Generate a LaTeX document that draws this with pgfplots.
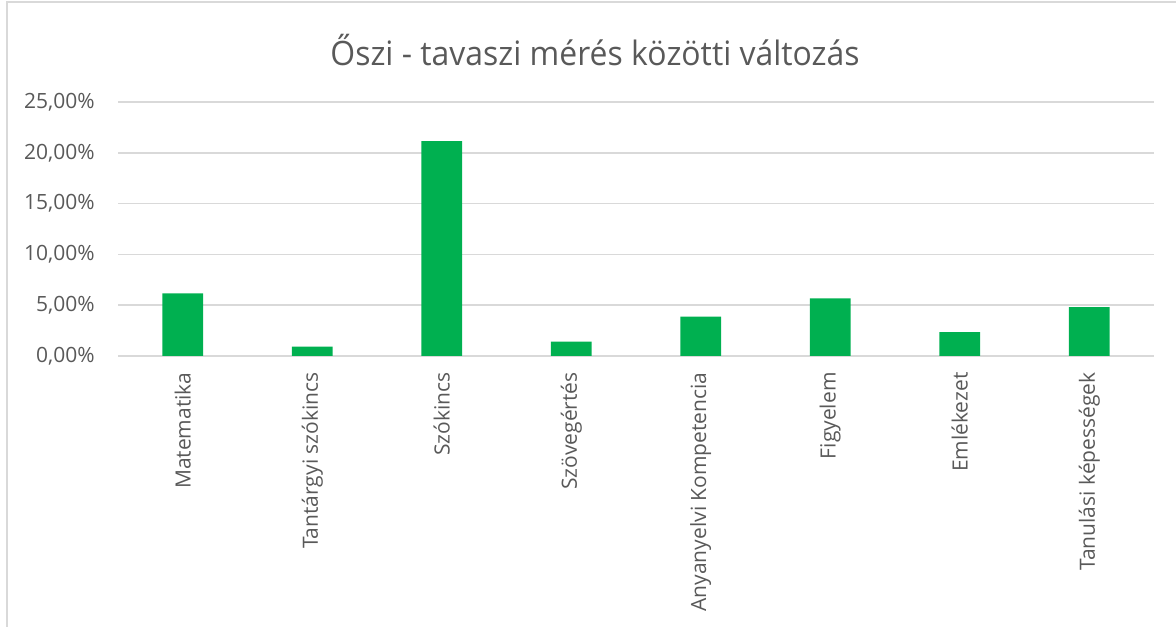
\documentclass[border=0pt]{standalone}
\usepackage{fontspec}
\setmainfont{Open Sans}
\usepackage{pgfplots}
\pgfplotsset{compat=1.18}
\definecolor{bargreen}{HTML}{00B050}
\definecolor{gridgray}{HTML}{D9D9D9}
\definecolor{txtgray}{HTML}{595959}
\begin{document}
\begin{tikzpicture}[x=1pt,y=1pt]
\path[use as bounding box] (0,0) rectangle (588,313);
\draw[gridgray, line width=1pt] (3.4,-5) -- (3.4,311.8) -- (595,311.8);
\node[text=txtgray, font=\fontsize{16.8}{19}\selectfont, xscale=0.95] at (297.5,288) {Őszi - tavaszi mérés közötti változás};
\begin{axis}[
  at={(59pt,135pt)}, anchor=south west,
  scale only axis, width=518pt, height=127pt,
  xmin=-0.5, xmax=7.5, ymin=0, ymax=25,
  ytick={0,5,10,15,20,25},
  yticklabels={0{,}00\%,5{,}00\%,10{,}00\%,15{,}00\%,20{,}00\%,25{,}00\%},
  xtick={0,1,2,3,4,5,6,7},
  xticklabels={Matematika,Tantárgyi szókincs,Szókincs,Szövegértés,Anyanyelvi Kompetencia,Figyelem,Emlékezet,Tanulási képességek},
  /pgf/number format/assume math mode=true,
  x tick label style={rotate=90, anchor=east, inner sep=0pt, text=txtgray, font=\fontsize{10.5}{12}\selectfont},
  y tick label style={anchor=east, inner sep=0pt, text=txtgray, font=\fontsize{10.5}{12}\selectfont},
  xticklabel shift=8pt,
  yticklabel shift=11.5pt,
  major tick length=0pt,
  ymajorgrids, grid style={gridgray, line width=0.8pt},
  axis line style={draw=none},
  clip=false,
]
\addplot[ybar, bar width=20.3pt, fill=bargreen, draw=none] coordinates {
(0,6.17) (1,0.92) (2,21.16) (3,1.41) (4,3.87) (5,5.68) (6,2.36) (7,4.82)
};
\end{axis}
\end{tikzpicture}
\end{document}
